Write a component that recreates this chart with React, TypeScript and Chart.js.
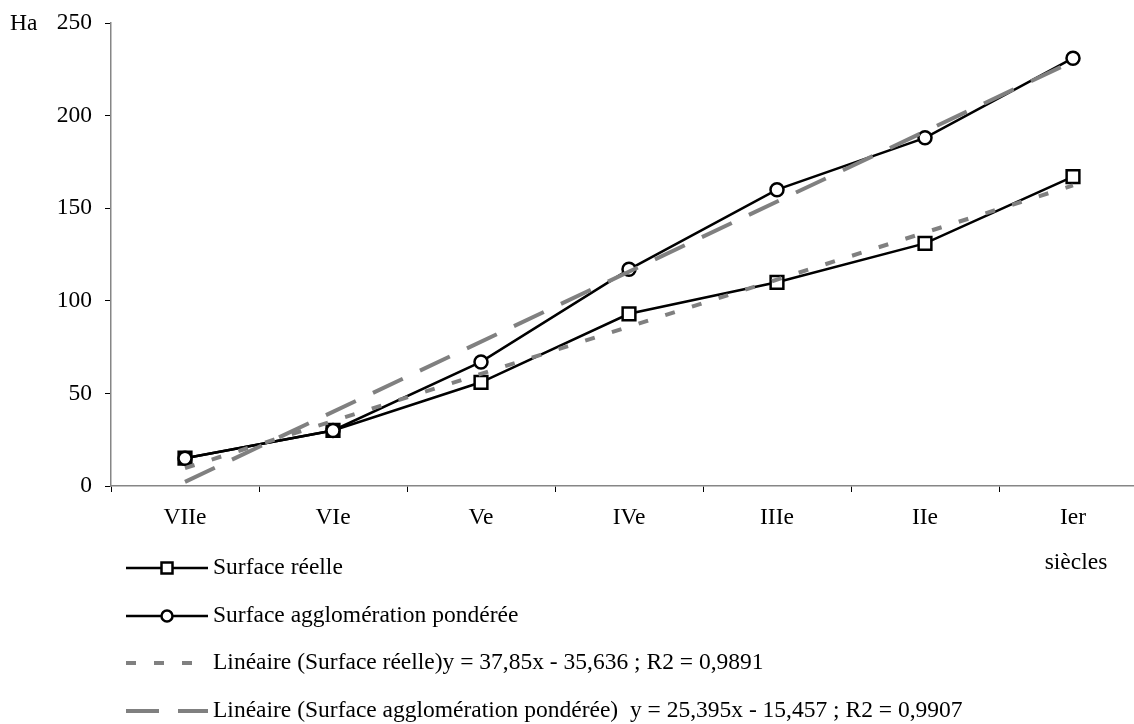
import React, { useEffect, useRef } from "react";
import { Chart, registerables } from "chart.js";

Chart.register(...registerables);

// ---- data ----
const categories = ["VIIe", "VIe", "Ve", "IVe", "IIIe", "IIe", "Ier"];
const surfaceReelle = [15, 30, 56, 93, 110, 131, 167];
const surfacePonderee = [15, 30, 67, 117, 160, 188, 231];
// straight trend lines: only the two end values
const trendReelle = [9.7, null, null, null, null, null, 162.3];
const trendPonderee = [2.2, null, null, null, null, null, 229.3];
const yTicks = [0, 50, 100, 150, 200, 250];
const seriesLabels = [
  "Surface réelle",
  "Surface agglomération pondérée",
  "Linéaire (Surface réelle)y = 37,85x - 35,636 ; R2 = 0,9891",
  "Linéaire (Surface agglomération pondérée)  y = 25,395x - 15,457 ; R2 = 0,9907",
];
const yUnit = "Ha";
const xUnit = "siècles";

const FONT_FAMILY = '"Liberation Serif", "Times New Roman", serif';
const FONT_SIZE = 23.5;
const GRAY = "#808080";
const AXIS = "#868686";

const overlayPlugin = {
  id: "overlay",
  afterDraw(chart: any) {
    const ctx = chart.ctx as CanvasRenderingContext2D;
    const datasets = chart.data.datasets;
    ctx.save();
    ctx.font = `${FONT_SIZE}px ${FONT_FAMILY}`;
    ctx.fillStyle = "#000";
    ctx.textBaseline = "middle";

    // y unit
    const yTop = chart.scales.y.getPixelForValue(yTicks[yTicks.length - 1]);
    ctx.textAlign = "left";
    ctx.fillText(yUnit, 10, yTop + 1);

    // x unit under last category
    const xLast = chart.scales.x.getPixelForValue(categories.length - 1);
    ctx.textAlign = "center";
    ctx.fillText(xUnit, xLast + 3, 563);

    // legend
    const rows = [568, 616, 663, 711];
    const x0 = 126;
    const x1 = 208;
    const xm = 167;
    rows.forEach((ry, i) => {
      const ds = datasets[i];
      ctx.save();
      ctx.strokeStyle = ds.borderColor;
      ctx.lineWidth = ds.borderWidth;
      ctx.lineCap = "butt";
      ctx.setLineDash(ds.borderDash || []);
      ctx.beginPath();
      ctx.moveTo(x0, ry);
      ctx.lineTo(x1, ry);
      ctx.stroke();
      ctx.setLineDash([]);
      if (ds.pointRadius > 0) {
        ctx.fillStyle = "#fff";
        ctx.strokeStyle = "#000";
        ctx.lineWidth = 2.5;
        if (ds.pointStyle === "rect") {
          const s = 5.5;
          ctx.fillRect(xm - s, ry - s, 2 * s, 2 * s);
          ctx.strokeRect(xm - s, ry - s, 2 * s, 2 * s);
        } else {
          ctx.beginPath();
          ctx.arc(xm, ry, 5.5, 0, Math.PI * 2);
          ctx.fill();
          ctx.stroke();
        }
      }
      ctx.restore();
      ctx.fillStyle = "#000";
      ctx.textAlign = "left";
      ctx.textBaseline = "middle";
      ctx.fillText(ds.label, 213, ry);
    });
    ctx.restore();
  },
};

export default function App() {
  const canvasRef = useRef<HTMLCanvasElement | null>(null);

  useEffect(() => {
    document.body.style.margin = "0";
    document.body.style.overflow = "hidden";
    const canvas = canvasRef.current;
    if (!canvas) return;
    const font = { family: FONT_FAMILY, size: FONT_SIZE };
    const chart = new Chart(canvas, {
      type: "line",
      data: {
        labels: categories,
        datasets: [
          {
            label: seriesLabels[0],
            data: surfaceReelle,
            borderColor: "#000",
            borderWidth: 2.5,
            pointStyle: "rect",
            pointRadius: 9,
            pointBorderWidth: 2.5,
            pointBackgroundColor: "#fff",
            pointBorderColor: "#000",
            tension: 0,
            order: 3,
          },
          {
            label: seriesLabels[1],
            data: surfacePonderee,
            borderColor: "#000",
            borderWidth: 2.5,
            pointStyle: "circle",
            pointRadius: 6.5,
            pointBorderWidth: 2.5,
            pointBackgroundColor: "#fff",
            pointBorderColor: "#000",
            tension: 0,
            order: 2,
          },
          {
            label: seriesLabels[2],
            data: trendReelle,
            borderColor: GRAY,
            borderWidth: 4,
            borderDash: [10, 18],
            borderCapStyle: "butt",
            pointRadius: 0,
            spanGaps: true,
            order: 1,
          },
          {
            label: seriesLabels[3],
            data: trendPonderee,
            borderColor: GRAY,
            borderWidth: 4,
            borderDash: [33, 19],
            borderCapStyle: "butt",
            pointRadius: 0,
            spanGaps: true,
            order: 0,
          },
        ] as any,
      },
      options: {
        responsive: false,
        animation: false,
        events: [],
        layout: { padding: { top: 23, right: 13, left: 0, bottom: 0 } },
        plugins: {
          legend: { display: false },
          tooltip: { enabled: false },
        },
        scales: {
          x: {
            type: "category",
            offset: true,
            grid: {
              offset: true,
              drawOnChartArea: false,
              drawTicks: true,
              tickLength: 6,
              color: "#000",
              lineWidth: 1,
            },
            border: { color: AXIS, width: 1.5 },
            ticks: {
              font,
              color: "#000",
              padding: 12,
              maxRotation: 0,
              autoSkip: false,
            },
            afterFit(scale: any) {
              scale.height = 724 - 486;
              scale.paddingLeft = 0;
              scale.paddingRight = 0;
            },
          },
          y: {
            min: yTicks[0],
            max: yTicks[yTicks.length - 1],
            grid: {
              drawOnChartArea: false,
              drawTicks: true,
              tickLength: 6,
              color: "#000",
              lineWidth: 1,
            },
            border: { color: AXIS, width: 1.5 },
            ticks: {
              font,
              color: "#000",
              padding: 13,
              stepSize: 50,
            },
            afterFit(scale: any) {
              scale.width = 111;
              scale.paddingTop = 0;
              scale.paddingBottom = 0;
            },
          },
        },
      },
      plugins: [overlayPlugin],
    });
    return () => chart.destroy();
  }, []);

  return (
    <div style={{ position: "relative", width: 1134, height: 724, overflow: "hidden" }}>
      <canvas ref={canvasRef} width={1160} height={724} style={{ display: "block" }} />
    </div>
  );
}
